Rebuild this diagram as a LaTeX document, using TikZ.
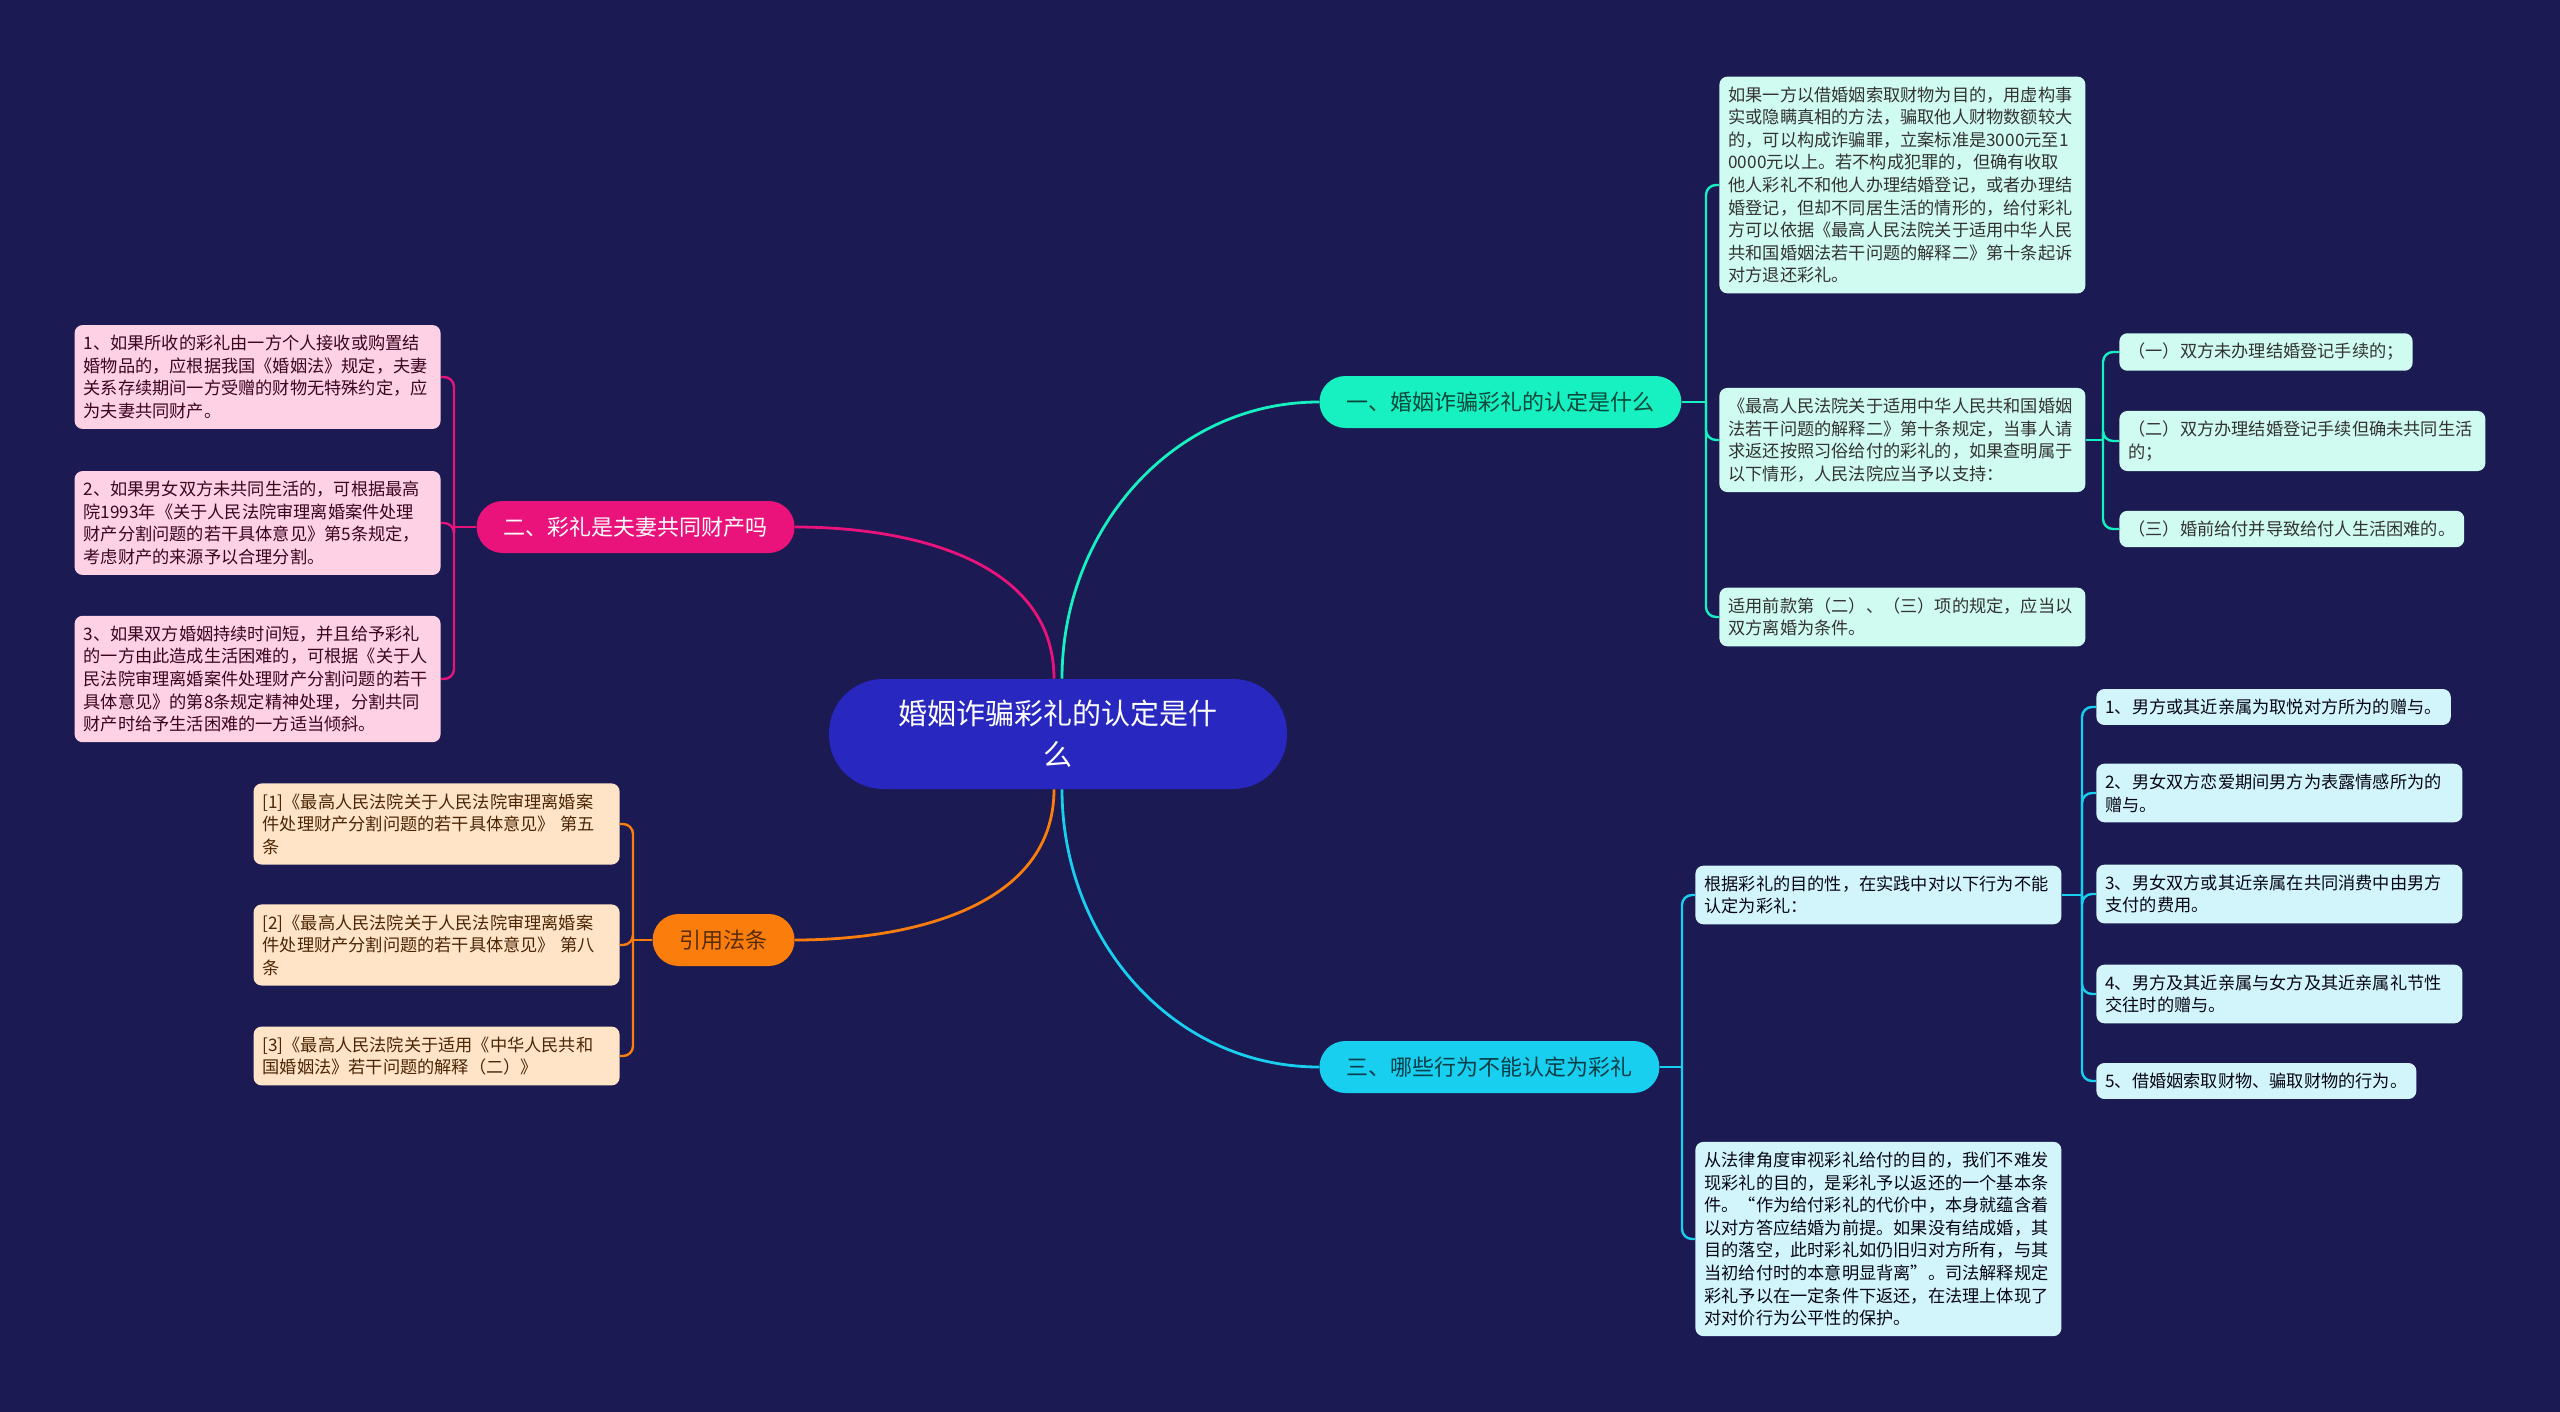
\documentclass[tikz,border=0pt]{standalone}
\usepackage{fontspec}
\setmainfont{Noto Sans CJK SC}
\usepackage{xcolor}
\definecolor{mmnavy}{HTML}{1B1A52}
\definecolor{mmroot}{HTML}{2828C0}
\definecolor{mmteal}{HTML}{17F0C1}
\definecolor{mmpink}{HTML}{EA137B}
\definecolor{mmorange}{HTML}{FB7E0C}
\definecolor{mmcyan}{HTML}{18CFF0}
\definecolor{mmmint}{HTML}{D0FBF0}
\definecolor{mmrose}{HTML}{FFD1E4}
\definecolor{mmpeach}{HTML}{FFE4C8}
\definecolor{mmsky}{HTML}{D2F5FC}
\usepackage{tikz}
\usetikzlibrary{positioning}

\begin{document}
\begin{tikzpicture}[x=0.5pt, y=-0.5pt,
  rootbox/.style={fill=mmroot, text=white, rounded corners=27pt, minimum width=229pt,
    minimum height=55pt, align=center, inner sep=0pt, font=\fontsize{14.5pt}{20.5pt}\selectfont},
  topicbox/.style={rounded corners=13pt, minimum height=26pt, inner xsep=13.5pt, inner ysep=0pt,
    font=\fontsize{11pt}{13pt}\selectfont},
  leafbox/.style={rounded corners=4pt, inner xsep=4.5pt, inner ysep=5pt, align=left,
    font=\fontsize{8.6pt}{11.3pt}\selectfont},
  wideleaf/.style={leafbox, text width=174pt},
  link/.style={line width=1.4pt},
  twig/.style={line width=1.2pt, rounded corners=5pt},
]
  \fill[mmnavy] (0,0) rectangle (2560,1412);

  % centre
  \node[rootbox] (root) at (1058,734) {婚姻诈骗彩礼的认定是什\\么};

  % main topics
  \node[topicbox, fill=mmteal, text=black!70!mmteal, anchor=west] (t1) at (1319,402) {一、婚姻诈骗彩礼的认定是什么};
  \node[topicbox, fill=mmpink, text=white, anchor=east] (t2) at (795,527) {二、彩礼是夫妻共同财产吗};
  \node[topicbox, fill=mmorange, text=black!65!mmorange, anchor=east] (t4) at (795,940) {引用法条};
  \node[topicbox, fill=mmcyan, text=black!70!mmcyan, anchor=west] (t3) at (1319,1067) {三、哪些行为不能认定为彩礼};

  \draw[link, mmteal] ([xshift=2pt]root.north) to[out=90,in=180] (t1.west);
  \draw[link, mmpink] ([xshift=-2pt]root.north) to[out=90,in=0] (t2.east);
  \draw[link, mmorange] ([xshift=-2pt]root.south) to[out=-90,in=0] (t4.east);
  \draw[link, mmcyan] ([xshift=2pt]root.south) to[out=-90,in=180] (t3.west);

  % topic one
  \node[wideleaf, fill=mmmint, text=black!80, anchor=west] (a1) at (1719,185) {如果一方以借婚姻索取财物为目的，用虚构事\\实或隐瞒真相的方法，骗取他人财物数额较大\\的，可以构成诈骗罪，立案标准是3000元至1\\0000元以上。若不构成犯罪的，但确有收取\\他人彩礼不和他人办理结婚登记，或者办理结\\婚登记，但却不同居生活的情形的，给付彩礼\\方可以依据《最高人民法院关于适用中华人民\\共和国婚姻法若干问题的解释二》第十条起诉\\对方退还彩礼。};
  \node[wideleaf, fill=mmmint, text=black!80, anchor=west] (a2) at (1719,440) {《最高人民法院关于适用中华人民共和国婚姻\\法若干问题的解释二》第十条规定，当事人请\\求返还按照习俗给付的彩礼的，如果查明属于\\以下情形，人民法院应当予以支持：};
  \node[wideleaf, fill=mmmint, text=black!80, anchor=west] (a3) at (1719,617) {适用前款第（二）、（三）项的规定，应当以\\双方离婚为条件。};
  \node[leafbox, fill=mmmint, text=black!80, anchor=west] (a21) at (2119,352) {（一）双方未办理结婚登记手续的；};
  \node[wideleaf, fill=mmmint, text=black!80, anchor=west] (a22) at (2119,441) {（二）双方办理结婚登记手续但确未共同生活\\的；};
  \node[leafbox, fill=mmmint, text=black!80, anchor=west] (a23) at (2119,529) {（三）婚前给付并导致给付人生活困难的。};

  \coordinate (j1) at (1706,402);
  \draw[twig, mmteal] (t1.east) -- (j1);
  \foreach \n in {a1,a2,a3} \draw[twig, mmteal] (j1) |- (\n.west);
  \coordinate (j2) at (2103,440);
  \draw[twig, mmteal] (a2.east) -- (j2);
  \foreach \n in {a21,a22,a23} \draw[twig, mmteal] (j2) |- (\n.west);

  % topic two
  \node[wideleaf, fill=mmrose, text=black!75!mmpink, anchor=east] (b1) at (441,377) {1、如果所收的彩礼由一方个人接收或购置结\\婚物品的，应根据我国《婚姻法》规定，夫妻\\关系存续期间一方受赠的财物无特殊约定，应\\为夫妻共同财产。};
  \node[wideleaf, fill=mmrose, text=black!75!mmpink, anchor=east] (b2) at (441,523) {2、如果男女双方未共同生活的，可根据最高\\院1993年《关于人民法院审理离婚案件处理\\财产分割问题的若干具体意见》第5条规定，\\考虑财产的来源予以合理分割。};
  \node[wideleaf, fill=mmrose, text=black!75!mmpink, anchor=east] (b3) at (441,679) {3、如果双方婚姻持续时间短，并且给予彩礼\\的一方由此造成生活困难的，可根据《关于人\\民法院审理离婚案件处理财产分割问题的若干\\具体意见》的第8条规定精神处理，分割共同\\财产时给予生活困难的一方适当倾斜。};

  \coordinate (j3) at (454,527);
  \draw[twig, mmpink] (t2.west) -- (j3);
  \foreach \n in {b1,b2,b3} \draw[twig, mmpink] (j3) |- (\n.east);

  % cited articles
  \node[wideleaf, fill=mmpeach, text=black!70!mmorange, anchor=east] (c1) at (620,824) {[1]《最高人民法院关于人民法院审理离婚案\\件处理财产分割问题的若干具体意见》 第五\\条};
  \node[wideleaf, fill=mmpeach, text=black!70!mmorange, anchor=east] (c2) at (620,945) {[2]《最高人民法院关于人民法院审理离婚案\\件处理财产分割问题的若干具体意见》 第八\\条};
  \node[wideleaf, fill=mmpeach, text=black!70!mmorange, anchor=east] (c3) at (620,1056) {[3]《最高人民法院关于适用《中华人民共和\\国婚姻法》若干问题的解释（二）》};

  \coordinate (j4) at (633,940);
  \draw[twig, mmorange] (t4.west) -- (j4);
  \foreach \n in {c1,c2,c3} \draw[twig, mmorange] (j4) |- (\n.east);

  % topic three
  \node[wideleaf, fill=mmsky, text=black!75!mmnavy, anchor=west] (d1) at (1695,895) {根据彩礼的目的性，在实践中对以下行为不能\\认定为彩礼：};
  \node[wideleaf, fill=mmsky, text=black!75!mmnavy, anchor=west] (d2) at (1695,1239) {从法律角度审视彩礼给付的目的，我们不难发\\现彩礼的目的，是彩礼予以返还的一个基本条\\件。“作为给付彩礼的代价中，本身就蕴含着\\以对方答应结婚为前提。如果没有结成婚，其\\目的落空，此时彩礼如仍旧归对方所有，与其\\当初给付时的本意明显背离”。司法解释规定\\彩礼予以在一定条件下返还，在法理上体现了\\对对价行为公平性的保护。};
  \node[leafbox, fill=mmsky, text=black!75!mmnavy, anchor=west] (d11) at (2096,707) {1、男方或其近亲属为取悦对方所为的赠与。};
  \node[wideleaf, fill=mmsky, text=black!75!mmnavy, anchor=west] (d12) at (2096,793) {2、男女双方恋爱期间男方为表露情感所为的\\赠与。};
  \node[wideleaf, fill=mmsky, text=black!75!mmnavy, anchor=west] (d13) at (2096,894) {3、男女双方或其近亲属在共同消费中由男方\\支付的费用。};
  \node[wideleaf, fill=mmsky, text=black!75!mmnavy, anchor=west] (d14) at (2096,994) {4、男方及其近亲属与女方及其近亲属礼节性\\交往时的赠与。};
  \node[leafbox, fill=mmsky, text=black!75!mmnavy, anchor=west] (d15) at (2096,1081) {5、借婚姻索取财物、骗取财物的行为。};

  \coordinate (j5) at (1682,1067);
  \draw[twig, mmcyan] (t3.east) -- (j5);
  \foreach \n in {d1,d2} \draw[twig, mmcyan] (j5) |- (\n.west);
  \coordinate (j6) at (2082,895);
  \draw[twig, mmcyan] (d1.east) -- (j6);
  \foreach \n in {d11,d12,d13,d14,d15} \draw[twig, mmcyan] (j6) |- (\n.west);
\end{tikzpicture}
\end{document}
